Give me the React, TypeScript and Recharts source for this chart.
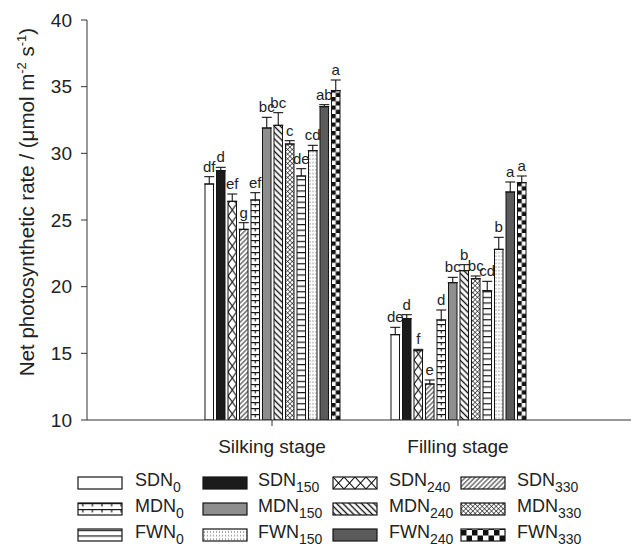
import { BarChart, Bar, XAxis, YAxis, ErrorBar } from 'recharts';

const FONT = '"Liberation Sans", Arial, Helvetica, sans-serif';

const stages = ['Silking stage', 'Filling stage'];
const seriesBase = ['SDN', 'SDN', 'SDN', 'SDN', 'MDN', 'MDN', 'MDN', 'MDN', 'FWN', 'FWN', 'FWN', 'FWN'];
const seriesDose = ['0', '150', '240', '330', '0', '150', '240', '330', '0', '150', '240', '330'];

const silkingValues = [27.7, 28.7, 26.4, 24.3, 26.5, 31.9, 32.1, 30.7, 28.3, 30.2, 33.5, 34.7];
const silkingErrors = [0.55, 0.25, 0.55, 0.5, 0.55, 0.8, 0.95, 0.25, 0.55, 0.4, 0.15, 0.8];
const silkingLetters = ['df', 'd', 'ef', 'g', 'ef', 'bc', 'bc', 'c', 'de', 'cd', 'ab', 'a'];

const fillingValues = [16.4, 17.6, 15.2, 12.7, 17.5, 20.3, 21.2, 20.6, 19.7, 22.8, 27.1, 27.8];
const fillingErrors = [0.55, 0.3, 0.1, 0.3, 0.75, 0.4, 0.45, 0.2, 0.7, 0.9, 0.75, 0.5];
const fillingLetters = ['de', 'd', 'f', 'e', 'd', 'bc', 'b', 'bc', 'cd', 'b', 'a', 'a'];

const yTicks = [10, 15, 20, 25, 30, 35, 40];

const stageValues = [silkingValues, fillingValues];
const stageErrors = [silkingErrors, fillingErrors];
const stageLetters = [silkingLetters, fillingLetters];

const data = stages.map((stage, si) => {
  const row: any = { stage };
  stageValues[si].forEach((v, k) => {
    row[`s${k}`] = v;
    row[`e${k}`] = [0, stageErrors[si][k]];
    row[`l${k}`] = stageLetters[si][k];
  });
  return row;
});

const INK = '#151515';

// fill for each treatment: flat colour or an svg pattern anchored at (x0, y0)
function fillFor(kind: number, id: string, x0: number, y0: number, w: number) {
  switch (kind) {
    case 0:
      return { fill: '#ffffff', def: null };
    case 1:
      return { fill: '#1b1b1b', def: null };
    case 5:
      return { fill: '#8e8e8e', def: null };
    case 10:
      return { fill: '#5b5b5b', def: null };
    case 2:
      return {
        fill: `url(#${id})`,
        def: (
          <pattern id={id} patternUnits="userSpaceOnUse" x={x0} y={y0} width={w} height={12}>
            <rect width={w} height={12} fill="#fff" />
            <path d={`M0,0 L${w},12 M${w},0 L0,12`} stroke={INK} strokeWidth={1.1} />
          </pattern>
        ),
      };
    case 3:
      return {
        fill: `url(#${id})`,
        def: (
          <pattern id={id} patternUnits="userSpaceOnUse" x={x0} y={y0} width={3.4} height={3.4} patternTransform="rotate(45)">
            <rect width={3.4} height={3.4} fill="#fff" />
            <line x1={1.7} y1={0} x2={1.7} y2={3.4} stroke={INK} strokeWidth={0.9} />
          </pattern>
        ),
      };
    case 4:
      return {
        fill: `url(#${id})`,
        def: (
          <pattern id={id} patternUnits="userSpaceOnUse" x={x0} y={y0} width={w} height={6}>
            <rect width={w} height={6} fill="#fff" />
            <line x1={0} y1={0.6} x2={w} y2={0.6} stroke={INK} strokeWidth={1.2} />
            <line x1={w / 2} y1={0} x2={w / 2} y2={3.4} stroke={INK} strokeWidth={1.2} />
          </pattern>
        ),
      };
    case 6:
      return {
        fill: `url(#${id})`,
        def: (
          <pattern id={id} patternUnits="userSpaceOnUse" x={x0} y={y0} width={4.4} height={4.4} patternTransform="rotate(-45)">
            <rect width={4.4} height={4.4} fill="#fff" />
            <line x1={2.2} y1={0} x2={2.2} y2={4.4} stroke={INK} strokeWidth={1.4} />
          </pattern>
        ),
      };
    case 7:
      return {
        fill: `url(#${id})`,
        def: (
          <pattern id={id} patternUnits="userSpaceOnUse" x={x0} y={y0} width={3.3} height={3.3} patternTransform="rotate(45)">
            <rect width={3.3} height={3.3} fill="#fff" />
            <line x1={0} y1={0} x2={0} y2={3.3} stroke={INK} strokeWidth={1.2} />
            <line x1={0} y1={0} x2={3.3} y2={0} stroke={INK} strokeWidth={1.2} />
          </pattern>
        ),
      };
    case 8:
      return {
        fill: `url(#${id})`,
        def: (
          <pattern id={id} patternUnits="userSpaceOnUse" x={x0} y={y0} width={w} height={5.6}>
            <rect width={w} height={5.6} fill="#fff" />
            <line x1={0} y1={0.6} x2={w} y2={0.6} stroke={INK} strokeWidth={1.2} />
          </pattern>
        ),
      };
    case 9:
      return {
        fill: `url(#${id})`,
        def: (
          <pattern id={id} patternUnits="userSpaceOnUse" x={x0} y={y0} width={3} height={3.6}>
            <rect width={3} height={3.6} fill="#fff" />
            <circle cx={1.5} cy={1.8} r={0.6} fill="#666" />
          </pattern>
        ),
      };
    case 11: {
      const s = w / 2;
      return {
        fill: `url(#${id})`,
        def: (
          <pattern id={id} patternUnits="userSpaceOnUse" x={x0} y={y0} width={2 * s} height={2 * s}>
            <rect width={2 * s} height={2 * s} fill="#fff" />
            <rect width={s} height={s} fill="#111" />
            <rect x={s} y={s} width={s} height={s} fill="#111" />
          </pattern>
        ),
      };
    }
    default:
      return { fill: '#fff', def: null };
  }
}

function StageBar(props: any) {
  const { x, y, width, height, index, payload, kind } = props;
  if (!height || height <= 0) return null;
  const id = `bar-${kind}-${index}`;
  const { fill, def } = fillFor(kind, id, x, y + height, width);
  const v = payload[`s${kind}`];
  const err = payload[`e${kind}`][1];
  const perUnit = height / (v - 10);
  const labelY = y - err * perUnit - 5;
  return (
    <g>
      {def && <defs>{def}</defs>}
      <rect x={x} y={y} width={width} height={height} fill={fill} stroke={INK} strokeWidth={1} />
      <text x={x + width / 2} y={labelY} textAnchor="middle" fontSize={15} fill="#222" fontFamily={FONT}>
        {payload[`l${kind}`]}
      </text>
    </g>
  );
}

const legendSwatchX = [78, 203, 333, 461];
const legendTextX = [135, 258, 389, 517];
const legendRowY = [483, 509, 535];

function swatchTile(k: number) {
  if (k === 11 || k === 2) return 11;
  return 9.6;
}

function Legend() {
  const items = [];
  for (let r = 0; r < 3; r++) {
    for (let c = 0; c < 4; c++) {
      const k = r * 4 + c;
      const sx = legendSwatchX[c];
      const sy = legendRowY[r] - 6;
      const { fill, def } = fillFor(k, `leg-${k}`, sx, sy + 12, swatchTile(k));
      items.push(
        <g key={k}>
          {def && <defs>{def}</defs>}
          <rect x={sx} y={sy} width={44} height={12} fill={fill} stroke={INK} strokeWidth={1.2} />
          <text x={legendTextX[c]} y={legendRowY[r] + 3} fontSize={18} fill="#222" fontFamily={FONT}>
            {seriesBase[k]}
            <tspan fontSize={14} dy={6}>{seriesDose[k]}</tspan>
          </text>
        </g>
      );
    }
  }
  return <g>{items}</g>;
}

export default function App() {
  return (
    <div style={{ position: 'absolute', left: 0, top: 0, width: 632, height: 546, background: '#fff', fontFamily: FONT }}>
      <BarChart
        width={632}
        height={546}
        data={data}
        margin={{ top: 20, right: 1, bottom: 96, left: 0 }}
        barSize={8.5}
        barGap={3}
      >
        <XAxis
          dataKey="stage"
          type="category"
          padding={{ left: 92, right: 80 }}
          tickSize={6}
          tickMargin={14}
          stroke="#333"
          tick={{ fontSize: 19, fill: '#222', fontFamily: FONT }}
          height={30}
        />
        <YAxis
          type="number"
          domain={[10, 40]}
          ticks={yTicks}
          allowDataOverflow
          width={87}
          tickSize={6}
          tickMargin={9}
          stroke="#333"
          tick={{ fontSize: 19, fill: '#222', fontFamily: FONT }}
        />
        {seriesBase.map((_, i) => (
          <Bar
            key={i}
            dataKey={`s${i}`}
            isAnimationActive={false}
            shape={(p: any) => <StageBar {...p} kind={i} />}
          >
            <ErrorBar dataKey={`e${i}`} width={5} stroke={INK} strokeWidth={1.1} isAnimationActive={false} />
          </Bar>
        ))}
      </BarChart>
      <svg width={632} height={546} style={{ position: 'absolute', left: 0, top: 0, pointerEvents: 'none' }}>
        <text transform="translate(34,202) rotate(-90)" textAnchor="middle" fontSize={20.5} fill="#222" fontFamily={FONT}>
          Net photosynthetic rate / (μmol m
          <tspan fontSize={13} dy={-8}>-2</tspan>
          <tspan dy={8}> s</tspan>
          <tspan fontSize={13} dy={-8}>-1</tspan>
          <tspan dy={8}>)</tspan>
        </text>
        <Legend />
      </svg>
    </div>
  );
}
